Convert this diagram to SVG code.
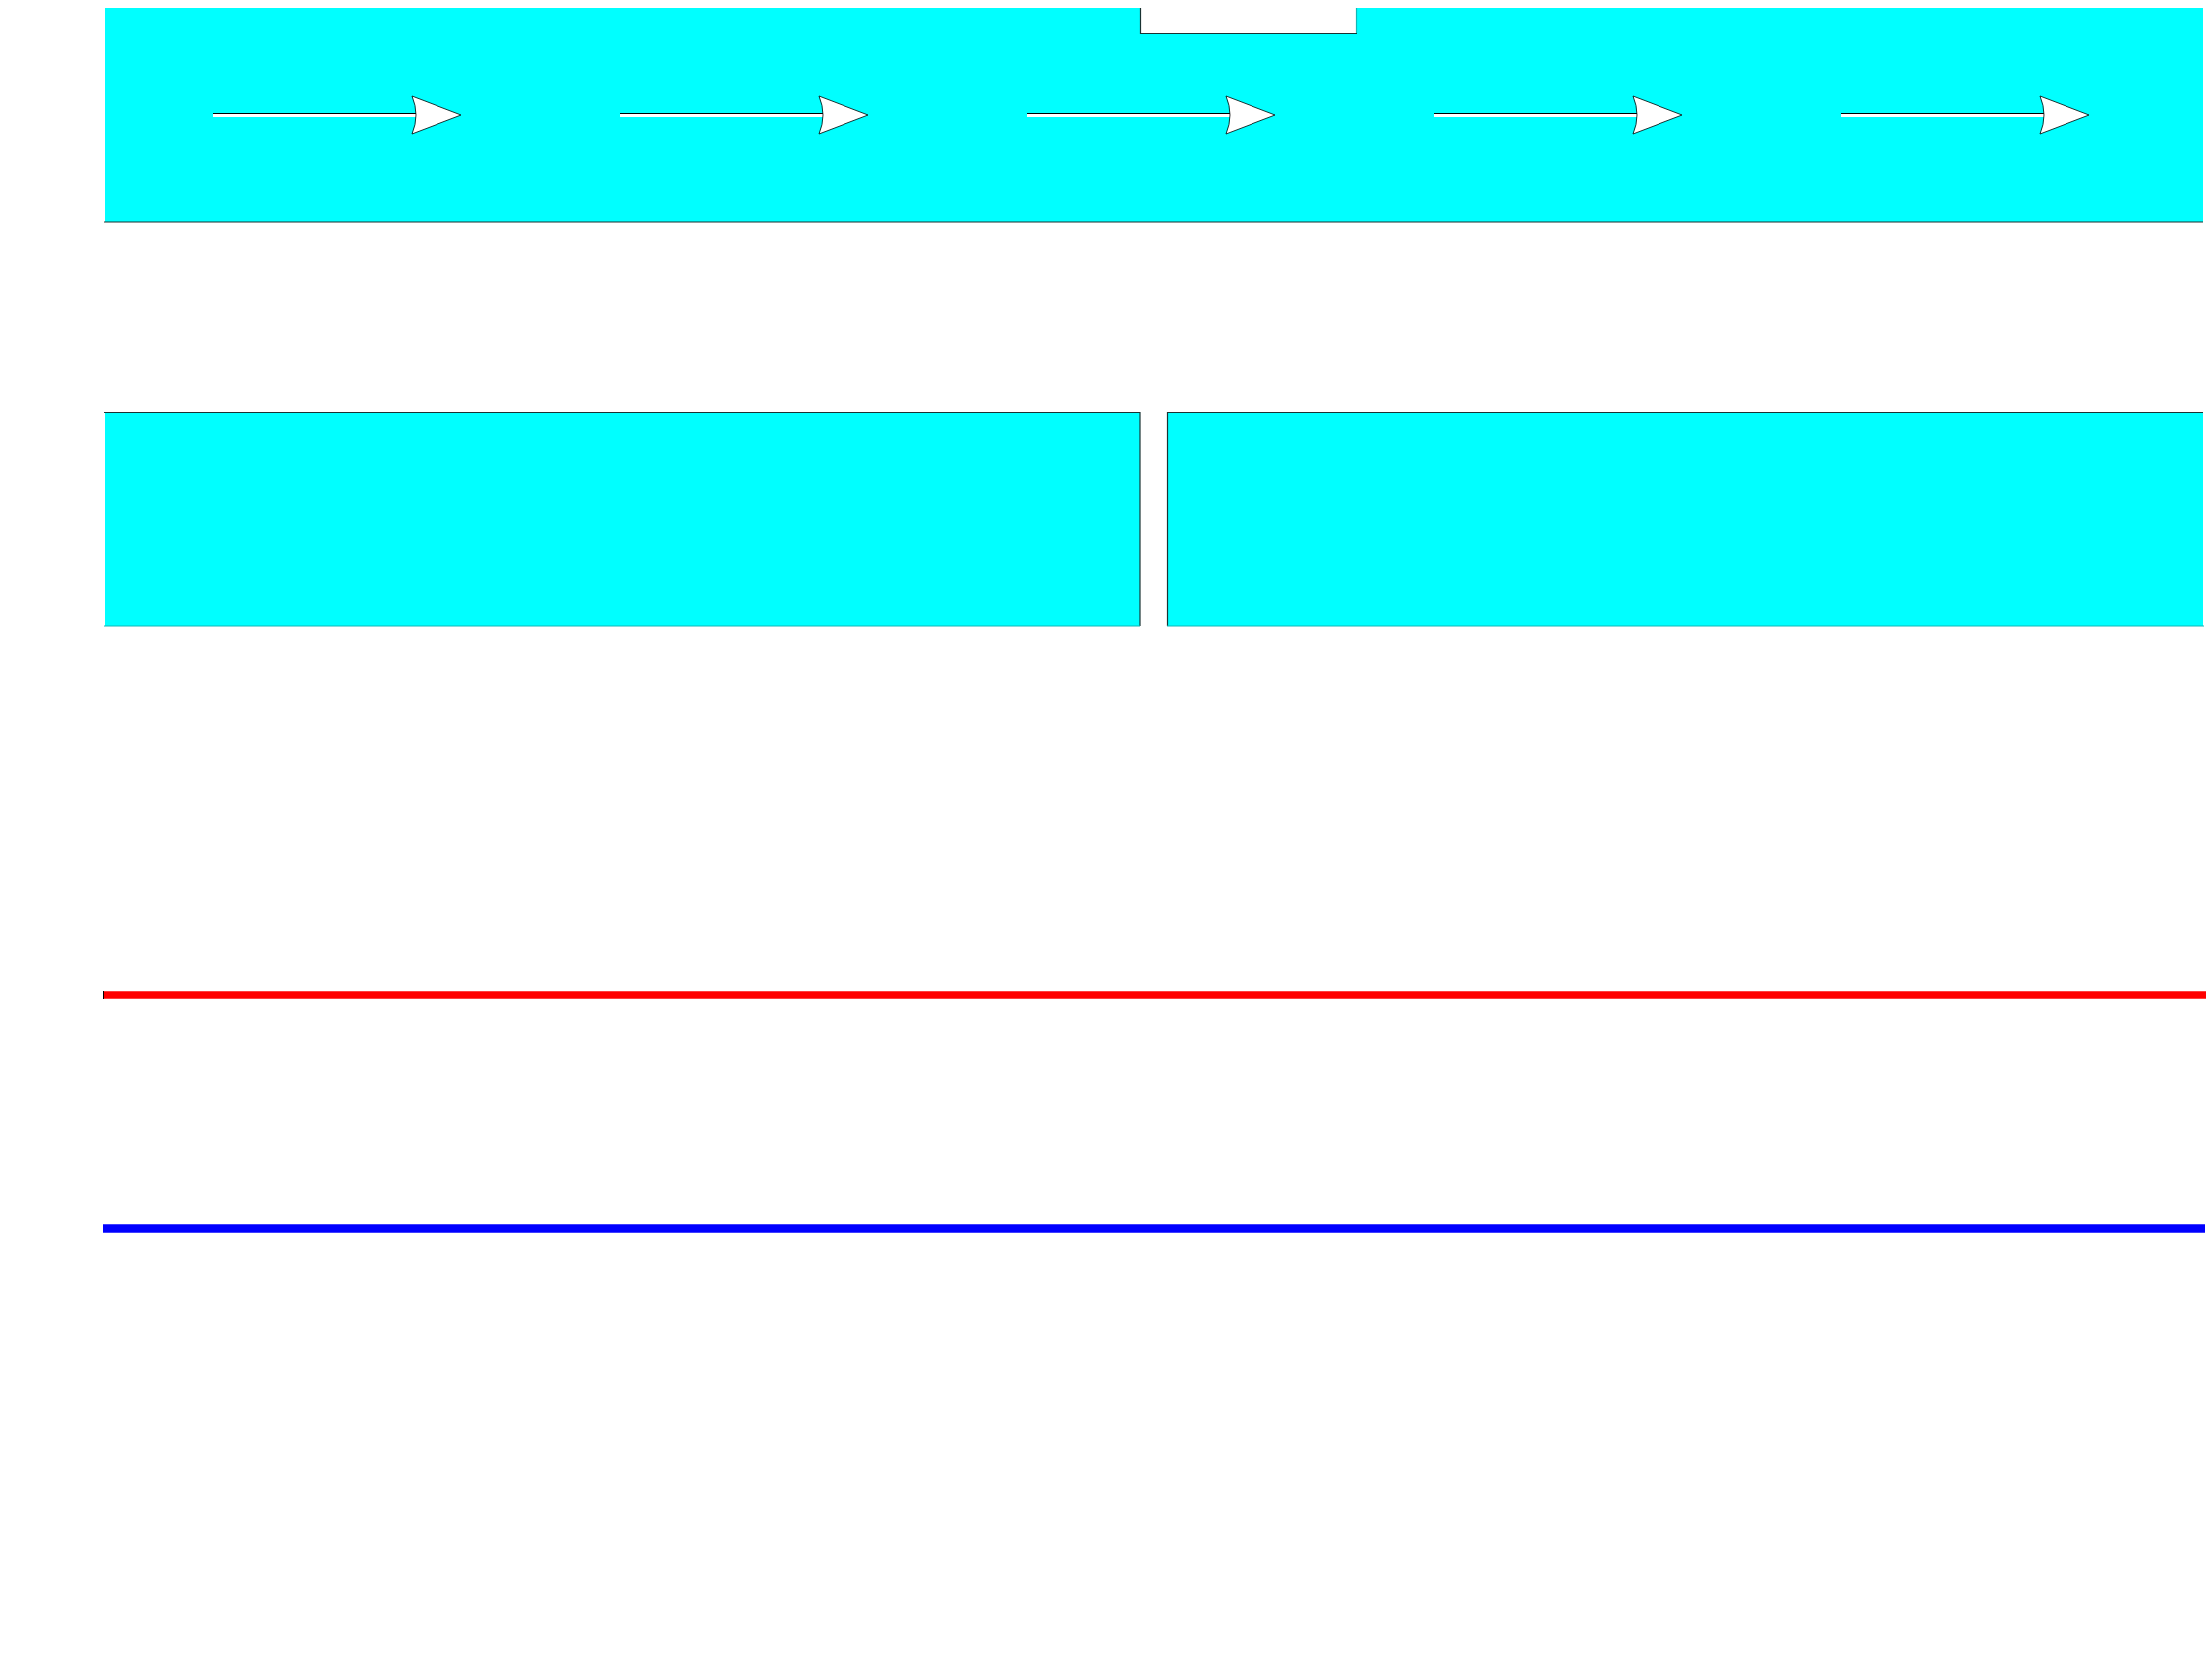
<svg xmlns="http://www.w3.org/2000/svg" xmlns:xlink="http://www.w3.org/1999/xlink" width="2250" height="1682" viewBox="0 0 2250 1682">
  <style>
    .cyan { fill: #00FFFF; stroke: none; }
    .edge-dark { stroke: #1a3333; stroke-width: 1.2; fill: none; }
    .edge-teal { stroke: #10b8b8; stroke-width: 1.2; fill: none; }
    .shaft { fill: #FFFFFF; stroke: none; }
    .shaft-line { stroke: #000000; stroke-width: 1; }
    .head { fill: #FFFFFF; stroke: #000000; stroke-width: 0.8; }
  </style>
  <defs>
    <g id="arrow">
      <rect class="shaft" x="0" y="115" width="208" height="4"/>
      <line class="shaft-line" x1="0" y1="115.5" x2="207" y2="115.5"/>
      <path class="head" d="M202,98 L252,117 L202,136 Q210,117 202,98 Z"/>
    </g>
  </defs>
  <rect width="2250" height="1682" fill="#FFFFFF"/>

  <g id="top-channel">
    <polygon class="cyan" points="107,8 1160,8 1160,34 1380,34 1380,8 2241,8 2241,226 107,226"/>
    <polyline class="edge-dark" points="1160.5,8 1160.5,34.5 1380,34.5"/>
    <line class="edge-teal" x1="1379.5" y1="8" x2="1379.5" y2="34"/>
    <line class="edge-dark" x1="106" y1="226" x2="2241" y2="226"/>
  </g>

  <g id="flow-arrows">
    <use xlink:href="#arrow" transform="translate(217,0)"/>
    <use xlink:href="#arrow" transform="translate(631,0)"/>
    <use xlink:href="#arrow" transform="translate(1045,0)"/>
    <use xlink:href="#arrow" transform="translate(1459,0)"/>
    <use xlink:href="#arrow" transform="translate(1873,0)"/>
  </g>

  <g id="left-block">
    <rect class="cyan" x="107" y="419" width="1053" height="218"/>
    <line class="edge-dark" x1="106" y1="419.5" x2="1160" y2="419.5"/>
    <line class="edge-dark" x1="1160" y1="419" x2="1160" y2="637"/>
    <line class="edge-teal" x1="106" y1="637" x2="1160" y2="637"/>
  </g>

  <g id="right-block">
    <rect class="cyan" x="1187" y="419" width="1054" height="218"/>
    <line class="edge-dark" x1="1187" y1="419.5" x2="2241" y2="419.5"/>
    <line class="edge-dark" x1="1187.5" y1="419" x2="1187.5" y2="637"/>
    <line class="edge-teal" x1="1187" y1="637" x2="2242" y2="637"/>
  </g>

  <g id="red-line">
    <line x1="106" y1="1012" x2="2244" y2="1012" stroke="#FF0000" stroke-width="7.5"/>
    <line x1="105.5" y1="1008" x2="105.5" y2="1016" stroke="#000000" stroke-width="1"/>
  </g>

  <g id="blue-line">
    <line x1="105" y1="1249.5" x2="2243" y2="1249.5" stroke="#0000FF" stroke-width="8.5"/>
  </g>
</svg>
